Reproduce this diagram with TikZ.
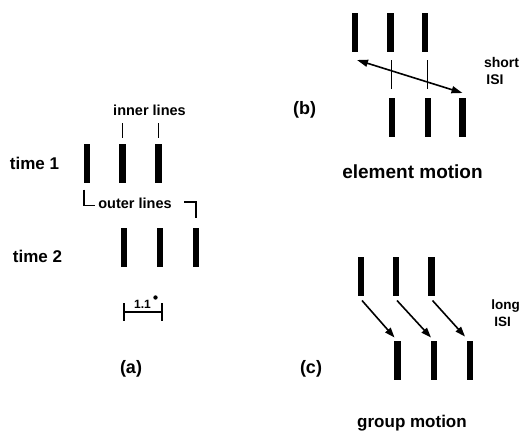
\documentclass[tikz,border=0pt]{standalone}
\usepackage{fontspec}
\setmainfont{Liberation Sans}
\usetikzlibrary{arrows.meta,calc}
\tikzset{
  bar/.style={fill=black, minimum width=6.5pt, minimum height=39pt, inner sep=0pt, outer sep=0pt},
  lbl/.style={anchor=base, inner sep=0pt, outer sep=0pt},
  arr/.style={line width=1.6pt, -{Triangle[length=10pt,width=7pt]}},
  darr/.style={line width=1.6pt, {Triangle[length=11pt,width=7pt]}-{Triangle[length=11pt,width=7pt]}},
  thinl/.style={line width=0.9pt},
  brk/.style={line width=1.4pt},
}
\newcommand{\fs}[1]{\fontsize{#1}{#1}\selectfont\bfseries}
\begin{document}
\begin{tikzpicture}[x=1pt,y=-1pt]
\path[use as bounding box] (0,0) rectangle (520,431);
% ---------- panel (a)
\node[bar] (a11) at (87,163) {};
\node[bar] (a12) at (122.5,163) {};
\node[bar] (a13) at (158.5,163) {};
\node[bar] (a21) at (124,247.5) {};
\node[bar] (a22) at (160,247.5) {};
\node[bar] (a23) at (196,247.5) {};
\node[lbl, font=\fs{14.5}] (inner) at (149.5,115) {inner lines};
\node[lbl, font=\fs{17}] (t1) at (34.5,169) {time 1};
\node[lbl, font=\fs{14.5}] (outer) at (135,208) {outer lines};
\node[lbl, font=\fs{17}] (t2) at (37.5,262) {time 2};
\draw[thinl] ($(a12.north)+(0,-6)$) -- ++(0,-15);
\draw[thinl] ($(a13.north)+(0,-6)$) -- ++(0,-15);
\draw[brk] ($(a11.south)+(-3,7)$) -- ++(0,16) -- ++(11,0);
\draw[brk] ($(a23.north)+(-12,-26)$) -- ++(12,0) -- ++(0,16);
\draw[brk] (124,303) -- (124,321);
\draw[brk] (162,303) -- (162,321);
\draw[brk] (124,312) -- (162,312);
\node[lbl, font=\fs{12}] (deg) at (142.5,308) {1.1};
\fill (155.5,297.5) circle (2.2);
\node[lbl, font=\fs{18}] (la) at (131,373) {(a)};
% ---------- panel (b)
\node[bar] (b11) at (355,32.5) {};
\node[bar] (b12) at (390.5,32.5) {};
\node[bar] (b13) at (425,32.5) {};
\node[bar] (b21) at (392,117.5) {};
\node[bar] (b22) at (428,117.5) {};
\node[bar] (b23) at (462.5,117.5) {};
\draw[thinl] ($(b21.north)+(-1,-9)$) -- ++(0,-29);
\draw[thinl] ($(b22.north)+(-1,-9)$) -- ++(0,-29);
\draw[darr] ($(b11.south)+(2,8)$) -- ($(b23.north)+(0,-5)$);
\node[lbl, font=\fs{18}] (lb) at (304.5,114) {(b)};
\node[lbl, font=\fs{14}] (short) at (501.5,67) {short};
\node[lbl, font=\fs{14}] (isi1) at (495,84) {ISI};
\node[lbl, font=\fs{19}] (elem) at (412.5,178) {element motion};
% ---------- panel (c)
\node[bar] (c11) at (361,276) {};
\node[bar] (c12) at (396,276) {};
\node[bar] (c13) at (431.5,276) {};
\node[bar] (c21) at (397.5,360) {};
\node[bar] (c22) at (434,360) {};
\node[bar] (c23) at (470,360) {};
\draw[arr] ($(c11.south)+(1,5)$) -- ($(c21.north)+(-3,-3)$);
\draw[arr] ($(c12.south)+(1,5)$) -- ($(c22.north)+(-3,-3)$);
\draw[arr] ($(c13.south)+(1,5)$) -- ($(c23.north)+(-5,-4)$);
\node[lbl, font=\fs{18}] (lc) at (311,373) {(c)};
\node[lbl, font=\fs{13.5}] (long) at (505.5,309) {long};
\node[lbl, font=\fs{13.5}] (isi2) at (502.5,326) {ISI};
\node[lbl, font=\fs{17}] (group) at (412,427) {group motion};
\end{tikzpicture}
\end{document}
